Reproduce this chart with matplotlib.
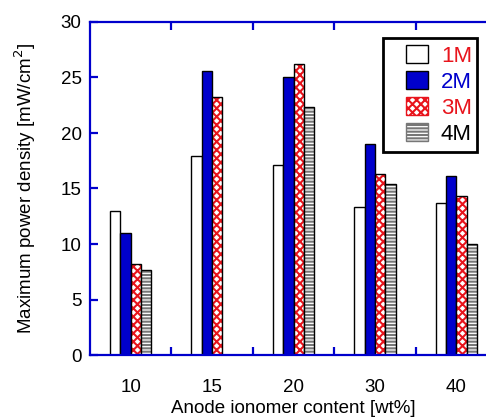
"""Bar chart of maximum power density vs anode ionomer content."""

import matplotlib

matplotlib.use("Agg")
import matplotlib.pyplot as plt
from matplotlib.patches import Rectangle
import numpy as np

plt.rcParams["font.family"] = ["Liberation Sans", "DejaVu Sans"]
plt.rcParams["hatch.linewidth"] = 1.5

# data
ionomer = ["10", "15", "20", "30", "40"]
series = ["1M", "2M", "3M", "4M"]
p_1m = [13.0, 17.9, 17.1, 13.3, 13.7]
p_2m = [11.0, 25.6, 25.0, 19.0, 16.1]
p_3m = [8.2, 23.2, 26.2, 16.3, 14.3]
p_4m = [7.7, 0.0, 22.3, 15.4, 10.0]

blue = "#0000cc"
red = "#e8141c"
styles = [
    dict(color="white", hatch=None, hcol="black", tcol=red),
    dict(color=blue, hatch=None, hcol="black", tcol=blue),
    dict(color="white", hatch="xxxx", hcol=red, tcol=red),
    dict(color="white", hatch="-----", hcol="#777777", tcol="black"),
]

W, H = 486, 419
fig = plt.figure(figsize=(W / 100, H / 100), dpi=100)
# axes runs past the right edge of the picture like the original crop
ax = fig.add_axes([90 / W, 64 / H, 407 / W, 333 / H])

x = np.arange(len(ionomer))
width = 0.127
handles = []
for i, (vals, st) in enumerate(zip([p_1m, p_2m, p_3m, p_4m], styles)):
    bars = ax.bar(
        x + (i - 1.5) * width,
        vals,
        width,
        color=st["color"],
        edgecolor=st["hcol"],
        hatch=st["hatch"],
        linewidth=0,
        label=series[i],
    )
    # black outline drawn separately so hatch colour can differ
    ax.bar(
        x + (i - 1.5) * width,
        vals,
        width,
        fill=False,
        edgecolor="black",
        linewidth=1.0,
    )
    handles.append(bars)

ax.set_xlim(-0.5, 4.5)
ax.set_ylim(0, 30)
ax.set_yticks(range(0, 31, 5))
ax.set_xticks(x)
ax.set_xticklabels(ionomer)
ax.set_xticks(x[:-1] + 0.5, minor=True)

for side in ["left", "right", "top", "bottom"]:
    ax.spines[side].set_color(blue)
    ax.spines[side].set_linewidth(1.6)

ax.tick_params(axis="x", which="major", length=0, labelsize=13.5, pad=17)
ax.tick_params(axis="x", which="minor", direction="in", length=6, width=1.6,
               color=blue, top=True)
ax.tick_params(axis="y", direction="in", length=6, width=1.6, color=blue,
               labelsize=13.5, pad=6, right=True)

ax.set_xlabel("Anode ionomer content [wt%]", fontsize=13.5, labelpad=3)
ax.set_ylabel("Maximum power density [mW/cm$^2$]", fontsize=13.5, labelpad=16)

# legend without its own frame; the box is drawn by hand below
leg = ax.legend(
    handles=handles,
    labels=series,
    loc="upper left",
    bbox_to_anchor=(402 / W, 1 - 41 / H),
    bbox_transform=fig.transFigure,
    borderaxespad=0,
    fontsize=16,
    frameon=False,
    borderpad=0.2,
    handlelength=0.95,
    handleheight=0.85,
    handletextpad=0.6,
    labelspacing=0.2,
)
for txt, st in zip(leg.get_texts(), styles):
    txt.set_color(st["tcol"])
for patch in leg.get_patches():
    patch.set_linewidth(1.0)
    patch.set_edgecolor("black")
leg.get_patches()[2].set_edgecolor(red)
leg.get_patches()[3].set_edgecolor("#777777")

fig.add_artist(Rectangle((383 / W, 1 - 152 / H), 94 / W, 114 / H,
                         transform=fig.transFigure, fill=False,
                         edgecolor="black", linewidth=2, zorder=10))

fig.savefig("out.png", dpi=100)
